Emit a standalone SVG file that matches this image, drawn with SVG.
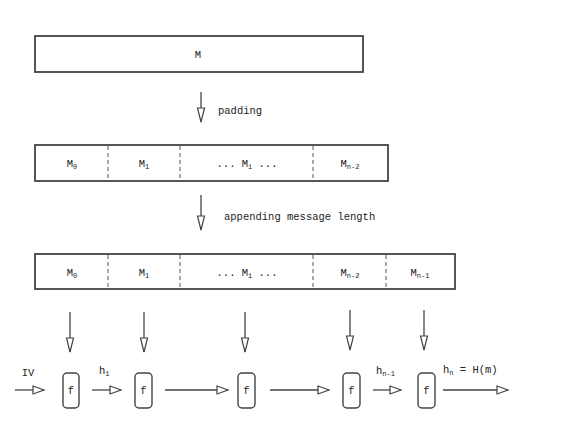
<svg xmlns="http://www.w3.org/2000/svg" width="571" height="437" viewBox="0 0 571 437">
<defs>
<style>
.box{fill:#fff;stroke:#444;stroke-width:1.8}
.div{stroke:#555;stroke-width:1;stroke-dasharray:4,3}
.t{font-family:"Liberation Mono","DejaVu Sans Mono",monospace;font-size:10.5px;fill:#222;text-anchor:middle}
.tl{font-family:"Liberation Mono","DejaVu Sans Mono",monospace;font-size:10.5px;fill:#222}
.sub{font-size:7px}
.ln{stroke:#444;stroke-width:1.3;fill:none}
.fb{fill:#fff;stroke:#444;stroke-width:1.4}
</style>
<marker id="hd" markerUnits="userSpaceOnUse" markerWidth="16" markerHeight="12" refX="13" refY="6" orient="auto">
<path d="M2,2 L13,6 L2,10 Z" fill="#fff" stroke="#444" stroke-width="1.2"/>
</marker>
<marker id="hv" markerUnits="userSpaceOnUse" markerWidth="18" markerHeight="12" refX="16" refY="6" orient="auto">
<path d="M2,2.5 L16,6 L2,9.5 Z" fill="#fff" stroke="#444" stroke-width="1.2"/>
</marker>
</defs>

<g id="msg">
<rect class="box" x="35" y="36" width="328" height="36"/>
<text class="t" x="198" y="58">M</text>
</g>

<g id="padded">
<rect class="box" x="35" y="145" width="353" height="36"/>
<line class="div" x1="108" y1="146" x2="108" y2="180"/>
<line class="div" x1="180" y1="146" x2="180" y2="180"/>
<line class="div" x1="313" y1="146" x2="313" y2="180"/>
<text class="t" x="72" y="167">M<tspan class="sub" dy="2">0</tspan></text>
<text class="t" x="144" y="167">M<tspan class="sub" dy="2">1</tspan></text>
<text class="t" x="247" y="167">... M<tspan class="sub" dy="2">i</tspan><tspan dy="-2"> ...</tspan></text>
<text class="t" x="350" y="167">M<tspan class="sub" dy="2">n-2</tspan></text>
</g>

<g id="appended">
<rect class="box" x="35" y="254" width="420" height="35"/>
<line class="div" x1="108" y1="255" x2="108" y2="288"/>
<line class="div" x1="180" y1="255" x2="180" y2="288"/>
<line class="div" x1="313" y1="255" x2="313" y2="288"/>
<line class="div" x1="386" y1="255" x2="386" y2="288"/>
<text class="t" x="72" y="276">M<tspan class="sub" dy="2">0</tspan></text>
<text class="t" x="144" y="276">M<tspan class="sub" dy="2">1</tspan></text>
<text class="t" x="247" y="276">... M<tspan class="sub" dy="2">i</tspan><tspan dy="-2"> ...</tspan></text>
<text class="t" x="350" y="276">M<tspan class="sub" dy="2">n-2</tspan></text>
<text class="t" x="420" y="276">M<tspan class="sub" dy="2">n-1</tspan></text>
</g>

<g id="f0"><rect class="fb" x="63" y="373" width="16" height="35" rx="4"/><text class="t" x="71" y="394">f</text></g>
<g id="f1"><rect class="fb" x="135" y="373" width="17" height="35" rx="4"/><text class="t" x="143.5" y="394">f</text></g>
<g id="f2"><rect class="fb" x="238" y="373" width="17" height="35" rx="4"/><text class="t" x="246.5" y="394">f</text></g>
<g id="f3"><rect class="fb" x="343" y="373" width="17" height="35" rx="4"/><text class="t" x="351.5" y="394">f</text></g>
<g id="f4"><rect class="fb" x="418" y="373" width="17" height="35" rx="4"/><text class="t" x="426.5" y="394">f</text></g>

<g id="connectors">
<line class="ln" x1="201" y1="92" x2="201" y2="122" marker-end="url(#hv)"/>
<line class="ln" x1="201" y1="195" x2="201" y2="230" marker-end="url(#hv)"/>
<line class="ln" x1="70" y1="312" x2="70" y2="352" marker-end="url(#hv)"/>
<line class="ln" x1="144" y1="312" x2="144" y2="352" marker-end="url(#hv)"/>
<line class="ln" x1="245" y1="312" x2="245" y2="352" marker-end="url(#hv)"/>
<line class="ln" x1="350" y1="310" x2="350" y2="350" marker-end="url(#hv)"/>
<line class="ln" x1="424" y1="310" x2="424" y2="350" marker-end="url(#hv)"/>
<line class="ln" x1="15" y1="390" x2="44" y2="390" marker-end="url(#hd)"/>
<line class="ln" x1="92" y1="390" x2="121" y2="390" marker-end="url(#hd)"/>
<line class="ln" x1="165" y1="390" x2="228" y2="390" marker-end="url(#hd)"/>
<line class="ln" x1="270" y1="390" x2="329" y2="390" marker-end="url(#hd)"/>
<line class="ln" x1="373" y1="390" x2="401" y2="390" marker-end="url(#hd)"/>
<line class="ln" x1="443" y1="390" x2="508" y2="390" marker-end="url(#hd)"/>
</g>

<g id="labels">
<text class="tl" x="218" y="114">padding</text>
<text class="tl" x="224" y="220">appending message length</text>
<text class="t" x="28" y="376">IV</text>
<text class="tl" x="99" y="374">h<tspan class="sub" dy="2">1</tspan></text>
<text class="tl" x="376" y="374">h<tspan class="sub" dy="2">n-1</tspan></text>
<text class="tl" x="443" y="373">h<tspan class="sub" dy="2">n</tspan><tspan dy="-2"> = H(m)</tspan></text>
</g>
</svg>
